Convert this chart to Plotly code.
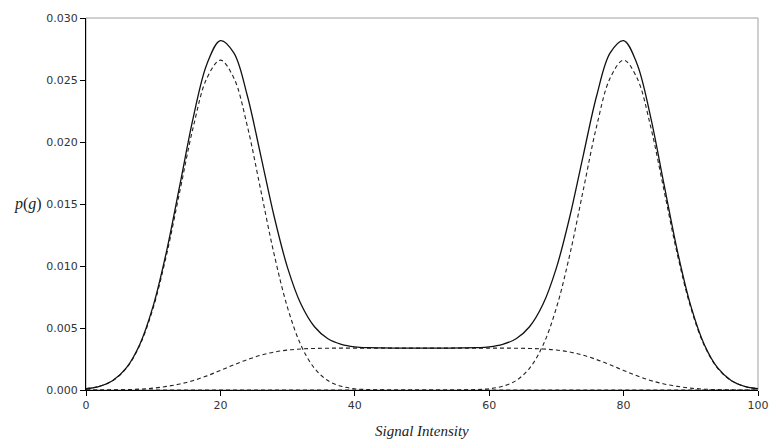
import numpy as np
import plotly.graph_objects as go

# Signal intensity grid (step 2)
signal = list(range(0, 101, 2))

# Low-intensity component density, x = 0, 2, ..., 100
low_peak = [0.00010, 0.00030, 0.00076, 0.00175, 0.00360, 0.00663, 0.01093, 0.01613,
            0.02130, 0.02516, 0.02660, 0.02516, 0.02130, 0.01613, 0.01093, 0.00663,
            0.00360, 0.00175, 0.00076, 0.00030, 0.00010, 0.00003, 0.00001, 0.0,
            0.0, 0.0, 0.0, 0.0, 0.0, 0.0, 0.0, 0.0, 0.0, 0.0, 0.0, 0.0, 0.0, 0.0,
            0.0, 0.0, 0.0, 0.0, 0.0, 0.0, 0.0, 0.0, 0.0, 0.0, 0.0, 0.0, 0.0]

# High-intensity component density
high_peak = [0.0, 0.0, 0.0, 0.0, 0.0, 0.0, 0.0, 0.0, 0.0, 0.0, 0.0, 0.0, 0.0, 0.0,
             0.0, 0.0, 0.0, 0.0, 0.0, 0.0, 0.0, 0.0, 0.0, 0.0, 0.0, 0.0, 0.0, 0.0,
             0.00001, 0.00003, 0.00010, 0.00030, 0.00076, 0.00175, 0.00360, 0.00663,
             0.01093, 0.01613, 0.02130, 0.02516, 0.02660, 0.02516, 0.02130, 0.01613,
             0.01093, 0.00663, 0.00360, 0.00175, 0.00076, 0.00030, 0.00010]

# Broad intermediate component density
broad = [0.0, 0.0, 0.00001, 0.00003, 0.00007, 0.00015, 0.00029, 0.00049, 0.00077,
         0.00114, 0.00158, 0.00203, 0.00245, 0.00280, 0.00306, 0.00322, 0.00331,
         0.00335, 0.00337, 0.00338, 0.00338, 0.00338, 0.00338, 0.00338, 0.00338,
         0.00338, 0.00338, 0.00338, 0.00338, 0.00338, 0.00338, 0.00338,
         0.00337, 0.00335, 0.00331, 0.00322, 0.00306, 0.00280, 0.00245, 0.00203,
         0.00158, 0.00114, 0.00077, 0.00049, 0.00029, 0.00015, 0.00007, 0.00003,
         0.00001, 0.0, 0.0]

# Mixture density is the sum of the components
total = (np.array(low_peak) + np.array(high_peak) + np.array(broad)).tolist()

x_ticks = [0, 20, 40, 60, 80, 100]
y_ticks = [0.000, 0.005, 0.010, 0.015, 0.020, 0.025, 0.030]

fig = go.Figure()

dash_line = dict(color="#222222", width=1.1, dash="4px,3px")
for comp in (low_peak, high_peak, broad):
    fig.add_trace(go.Scatter(x=signal, y=comp, mode="lines", line=dash_line,
                             line_shape="spline", showlegend=False, hoverinfo="skip"))

fig.add_trace(go.Scatter(x=signal, y=total, mode="lines",
                         line=dict(color="#111111", width=1.3),
                         line_shape="spline", showlegend=False))

tick_font = dict(family="DejaVu Sans", size=11, color="#333333")

fig.update_layout(
    width=781, height=444,
    margin=dict(l=86, r=13, t=13, b=54),
    paper_bgcolor="white", plot_bgcolor="white",
    xaxis=dict(range=[0, 100], tickvals=x_ticks, ticktext=[str(v) for v in x_ticks],
               showgrid=False, zeroline=False, showline=True, linecolor="black",
               linewidth=1, ticks="outside", ticklen=5, tickcolor="black",
               tickfont=tick_font),
    yaxis=dict(range=[0, 0.030], tickvals=y_ticks, ticktext=[f"{v:.3f}" for v in y_ticks],
               showgrid=False, zeroline=False, showline=True, linecolor="black",
               linewidth=1, ticks="outside", ticklen=5, tickcolor="black",
               tickfont=tick_font),
    shapes=[dict(type="rect", xref="paper", yref="paper", x0=0, y0=0, x1=1, y1=1,
                 line=dict(color="#a0a0a0", width=1), layer="below")],
    annotations=[
        dict(text="<i>p</i>(<i>g</i>)", xref="paper", yref="paper",
             x=-0.063, y=0.5, xanchor="right", yanchor="middle", showarrow=False,
             font=dict(family="Liberation Serif", size=16, color="#222222")),
        dict(text="<i>Signal Intensity</i>", xref="paper", yref="paper",
             x=0.5, y=-0.109, xanchor="center", yanchor="middle", showarrow=False,
             font=dict(family="Liberation Serif", size=15, color="#222222")),
    ],
)

fig.write_html("out.html")
